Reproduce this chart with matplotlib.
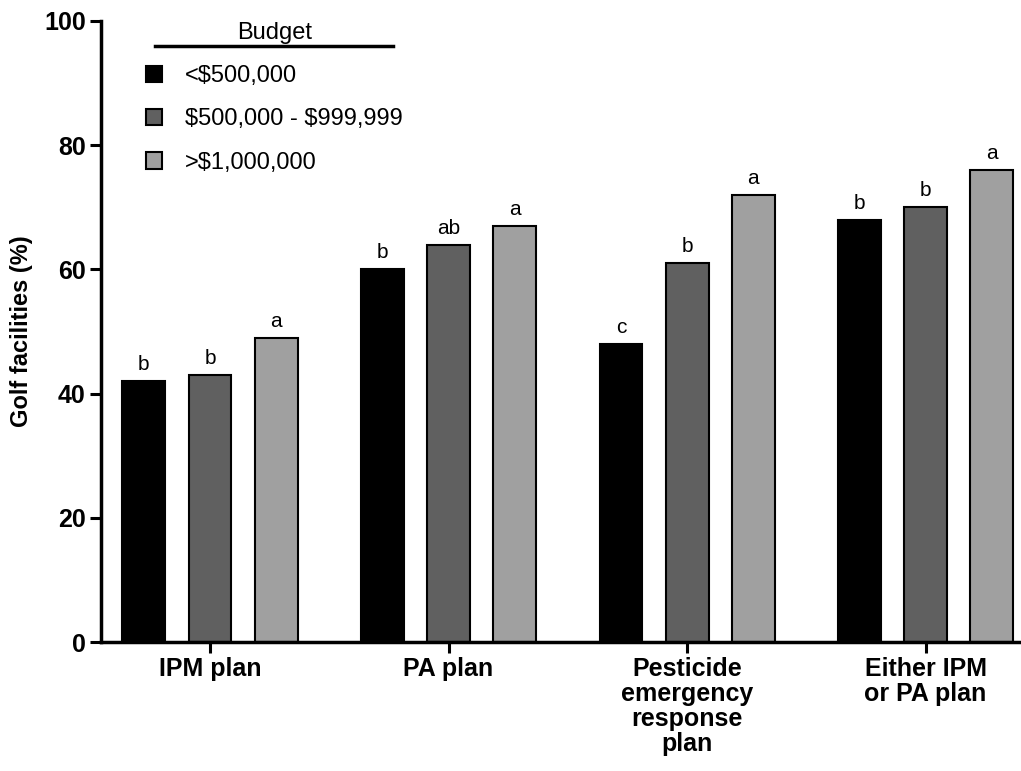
import matplotlib
matplotlib.use("Agg")
import matplotlib.pyplot as plt
import numpy as np

plt.rcParams['font.family'] = ['Liberation Sans', 'DejaVu Sans']
plt.rcParams['text.parse_math'] = False

categories = ['IPM plan', 'PA plan', 'Pesticide\nemergency\nresponse\nplan', 'Either IPM\nor PA plan']
budgets = ['<$500,000', '$500,000 - $999,999', '>$1,000,000']
low = [42, 60, 48, 68]
mid = [43, 64, 61, 70]
high = [49, 67, 72, 76]
letters_low = ['b', 'b', 'c', 'b']
letters_mid = ['b', 'ab', 'b', 'b']
letters_high = ['a', 'a', 'a', 'a']

colors = ['#000000', '#606060', '#a0a0a0']

fig = plt.figure(figsize=(10.21, 7.71), dpi=100)
ax = fig.add_axes([101/1021, 1-642/771, 1-101/1021, (642-21)/771])

x = np.arange(len(categories))
w = 0.18
off = 0.277
series = [low, mid, high]
letters = [letters_low, letters_mid, letters_high]
handles = []
for i, (vals, lab) in enumerate(zip(series, letters)):
    bars = ax.bar(x + (i-1)*off, vals, w, color=colors[i], edgecolor='black',
                  linewidth=1.5, label=budgets[i], zorder=2)
    handles.append(bars)
    for xi, v, t in zip(x + (i-1)*off, vals, lab):
        ax.annotate(t, (xi, v), xytext=(0, 5), textcoords='offset points',
                    ha='center', va='bottom', fontsize=15)

ax.set_xlim(-0.457, 3.40)
ax.set_ylim(0, 100)
ax.set_yticks([0, 20, 40, 60, 80, 100])
ax.set_xticks(x)
ax.set_xticklabels(categories, fontsize=18, fontweight='bold', linespacing=1.05)
ax.tick_params(axis='y', labelsize=18, width=2.2, length=8, pad=3)
ax.tick_params(axis='x', width=2.2, length=8, pad=3)
for lbl in ax.get_yticklabels():
    lbl.set_fontweight('bold')
ax.spines['top'].set_visible(False)
ax.spines['right'].set_visible(False)
ax.spines['left'].set_linewidth(2.5)
ax.spines['bottom'].set_linewidth(2.5)
ax.set_ylabel('Golf facilities (%)', fontsize=17, fontweight='bold', labelpad=8)

leg = ax.legend(handles=handles, labels=budgets, title='Budget', frameon=False,
                loc='upper left', bbox_to_anchor=(134/1021, 1-10/771),
                bbox_transform=fig.transFigure, fontsize=17, title_fontsize=17,
                handlelength=0.7, handleheight=0.7, handletextpad=0.95,
                labelspacing=0.9, borderpad=0)
fig.add_artist(plt.Line2D([155/1021, 393/1021], [1-46/771, 1-46/771],
                          color='black', linewidth=2.5, transform=fig.transFigure))

fig.savefig('out.png', dpi=100)
